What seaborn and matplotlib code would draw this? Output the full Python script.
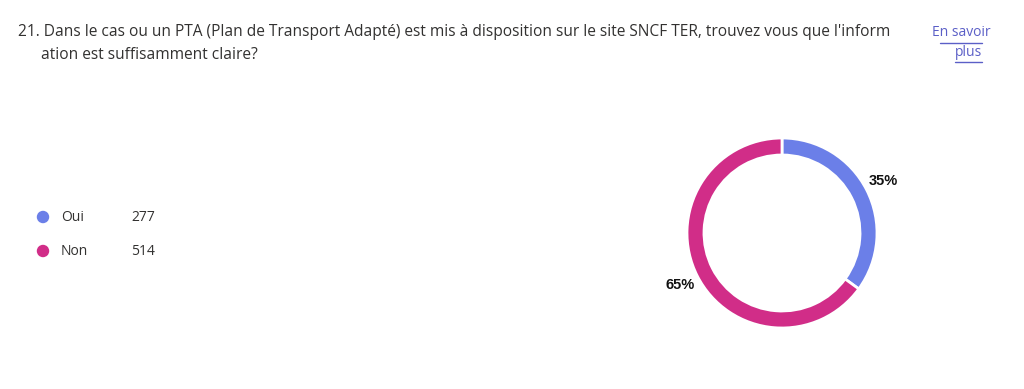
import numpy as np
import pandas as pd
import seaborn as sns
import matplotlib.pyplot as plt

question = ("21. Dans le cas ou un PTA (Plan de Transport Adapté) est mis à disposition sur le site SNCF TER, "
            "trouvez vous que l'inform")
question_2 = "ation est suffisamment claire?"
labels = ["Oui", "Non"]
counts = [277, 514]
colors = ["#6B7FE8", "#D12D88"]

if __name__ == "__main__":
    sns.set_theme(style="white")
    plt.rcParams["font.family"] = ["Open Sans", "DejaVu Sans"]

    W, H = 1024, 389
    fig = plt.figure(figsize=(W / 100, H / 100), dpi=100)
    fig.patch.set_facecolor("white")

    # title
    fig.text(18 / W, 1 - 32 / H, question, fontsize=11.2, color="#323130", va="center")
    fig.text(41 / W, 1 - 55 / H, question_2, fontsize=11.2, color="#323130", va="center")
    link = "#5B5FC7"
    fig.text(961 / W, 1 - 33 / H, "En savoir", fontsize=10, color=link, ha="center", va="center")
    fig.text(968 / W, 1 - 53 / H, "plus", fontsize=10, color=link, ha="center", va="center")
    fig.add_artist(plt.Line2D([940 / W, 982 / W], [1 - 43 / H] * 2, color=link, lw=1))
    fig.add_artist(plt.Line2D([955 / W, 982 / W], [1 - 62 / H] * 2, color=link, lw=1))

    # legend drawn with seaborn on an overlay axis in pixel coords
    lax = fig.add_axes([0, 0, 1, 1])
    lax.set_xlim(0, W)
    lax.set_ylim(H, 0)
    lax.axis("off")
    leg = pd.DataFrame({"label": labels, "count": counts,
                        "x": [43, 43], "y": [217, 251]})
    sns.scatterplot(data=leg, x="x", y="y", hue="label", palette=colors, s=80,
                    linewidth=0, legend=False, ax=lax)
    for _, r in leg.iterrows():
        lax.text(61, r["y"], r["label"], fontsize=10, color="#323130", va="center")
        lax.text(131, r["y"], str(r["count"]), fontsize=10, color="#323130", va="center")

    # donut
    cx, cy, rad = 782, 233, 95
    pax = fig.add_axes([(cx - rad) / W, (H - cy - rad) / H, 2 * rad / W, 2 * rad / H])
    pax.pie(counts, colors=colors, startangle=90, counterclock=False,
            autopct="%1.0f%%", pctdistance=1.2,
            wedgeprops=dict(width=17 / rad, edgecolor="white", linewidth=2),
            textprops=dict(fontsize=10.5, fontweight="bold", color="#111111",
                           family=["Liberation Sans", "DejaVu Sans"]))
    pax.set_aspect("equal")
    pax.set_xlim(-1, 1)
    pax.set_ylim(-1, 1)

    fig.savefig("out.png", dpi=100, facecolor="white")
